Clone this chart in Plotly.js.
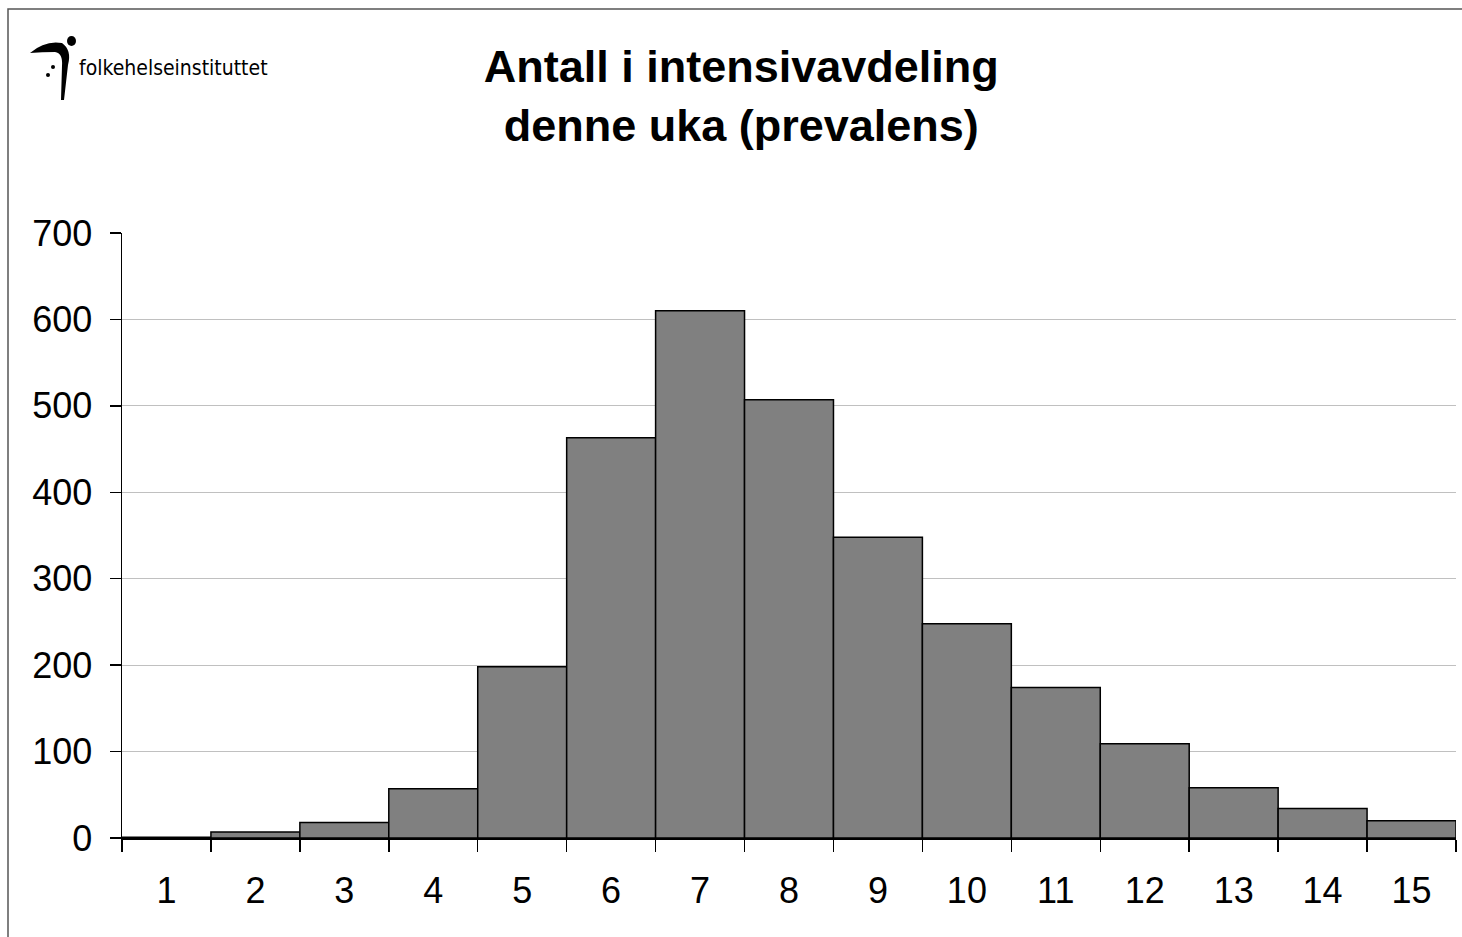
<!DOCTYPE html>
<html><head><meta charset="utf-8">
<script src="https://cdn.plot.ly/plotly-3.0.1.min.js"></script>
<style>body{margin:0;padding:0;background:#fff}#chart{width:1462px;height:937px}</style>
</head><body><div id="chart"></div>
<script>
const weeks = ["1","2","3","4","5","6","7","8","9","10","11","12","13","14","15"];
const patients = [1, 7, 18, 57, 198, 463, 610, 507, 348, 248, 174, 109, 58, 34, 20];
const yTicks = [0, 100, 200, 300, 400, 500, 600, 700];
const titleText = "Antall i intensivavdeling<br>denne uka (prevalens)";
const logoText = "folkehelseinstituttet";

const W = 1462, H = 937, L = 122, R = 6, T = 233, B = 99;
const pw = W - L - R, ph = H - T - B;
const px = x => (x - L) / pw;
const py = y => (H - B - y) / ph;
const P = (x, y) => px(x).toFixed(5) + "," + py(y).toFixed(5);

const swoosh = "M" + P(30,53) + " Q" + P(45,40) + " " + P(62,43) +
  " Q" + P(72,50) + " " + P(68,65) + " L" + P(64,100) + " L" + P(61,100) +
  " L" + P(62,66) + " Q" + P(63,53) + " " + P(55,52) + " Q" + P(42,52) + " " + P(30,53) + " Z";

const data = [{
  type: "bar", x: weeks, y: patients,
  marker: {color: "#808080", line: {color: "#000", width: 1.5}},
  hoverinfo: "x+y"
}];

const layout = {
  width: W, height: H,
  margin: {l: L, r: R, t: T, b: B},
  paper_bgcolor: "#fff", plot_bgcolor: "#fff",
  bargap: 0, showlegend: false,
  font: {family: "Liberation Sans, Arial, sans-serif", color: "#000"},
  title: {text: titleText, xref: "container", x: 0.507, xanchor: "center",
          yref: "container", y: 1 - 82/937, yanchor: "top",
          font: {size: 45, family: "Liberation Sans, Arial, sans-serif", weight: "bold", color: "#000"}},
  xaxis: {type: "category", showgrid: false, showline: true, linecolor: "#000", linewidth: 1.5,
          ticks: "outside", tickson: "boundaries", ticklen: 12, tickcolor: "#000", tickwidth: 1.5,
          tickfont: {size: 36}, ticklabelstandoff: 20, zeroline: false, fixedrange: true},
  yaxis: {range: [0, 700], tickvals: yTicks, showgrid: true, gridcolor: "#c0c0c0", gridwidth: 1,
          showline: true, linecolor: "#000", linewidth: 1.5, ticks: "outside", ticklen: 11,
          tickcolor: "#000", tickwidth: 1.5, tickfont: {size: 36}, ticklabelstandoff: 10,
          zeroline: false, fixedrange: true},
  shapes: [
    {type: "rect", xref: "paper", yref: "paper", x0: px(8), x1: px(1475), y0: py(9), y1: py(950),
     line: {color: "#555", width: 1.5}, fillcolor: "rgba(0,0,0,0)", layer: "above"},
    {type: "path", xref: "paper", yref: "paper", path: swoosh, fillcolor: "#000", line: {width: 0}},
    {type: "circle", xref: "paper", yref: "paper", x0: px(67), x1: px(76), y0: py(36), y1: py(46),
     fillcolor: "#000", line: {width: 0}},
    {type: "circle", xref: "paper", yref: "paper", x0: px(46), x1: px(50), y0: py(73), y1: py(77),
     fillcolor: "#000", line: {width: 0}},
    {type: "circle", xref: "paper", yref: "paper", x0: px(51), x1: px(55), y0: py(65), y1: py(69),
     fillcolor: "#000", line: {width: 0}}
  ],
  annotations: [
    {text: logoText, xref: "paper", yref: "paper", x: px(77), y: py(68), xanchor: "left", yanchor: "middle",
     showarrow: false, font: {size: 21, family: "DejaVu Sans Condensed, Liberation Sans Narrow, sans-serif", color: "#000"}}
  ]
};

Plotly.newPlot("chart", data, layout, {displayModeBar: false, staticPlot: true});
</script></body></html>
